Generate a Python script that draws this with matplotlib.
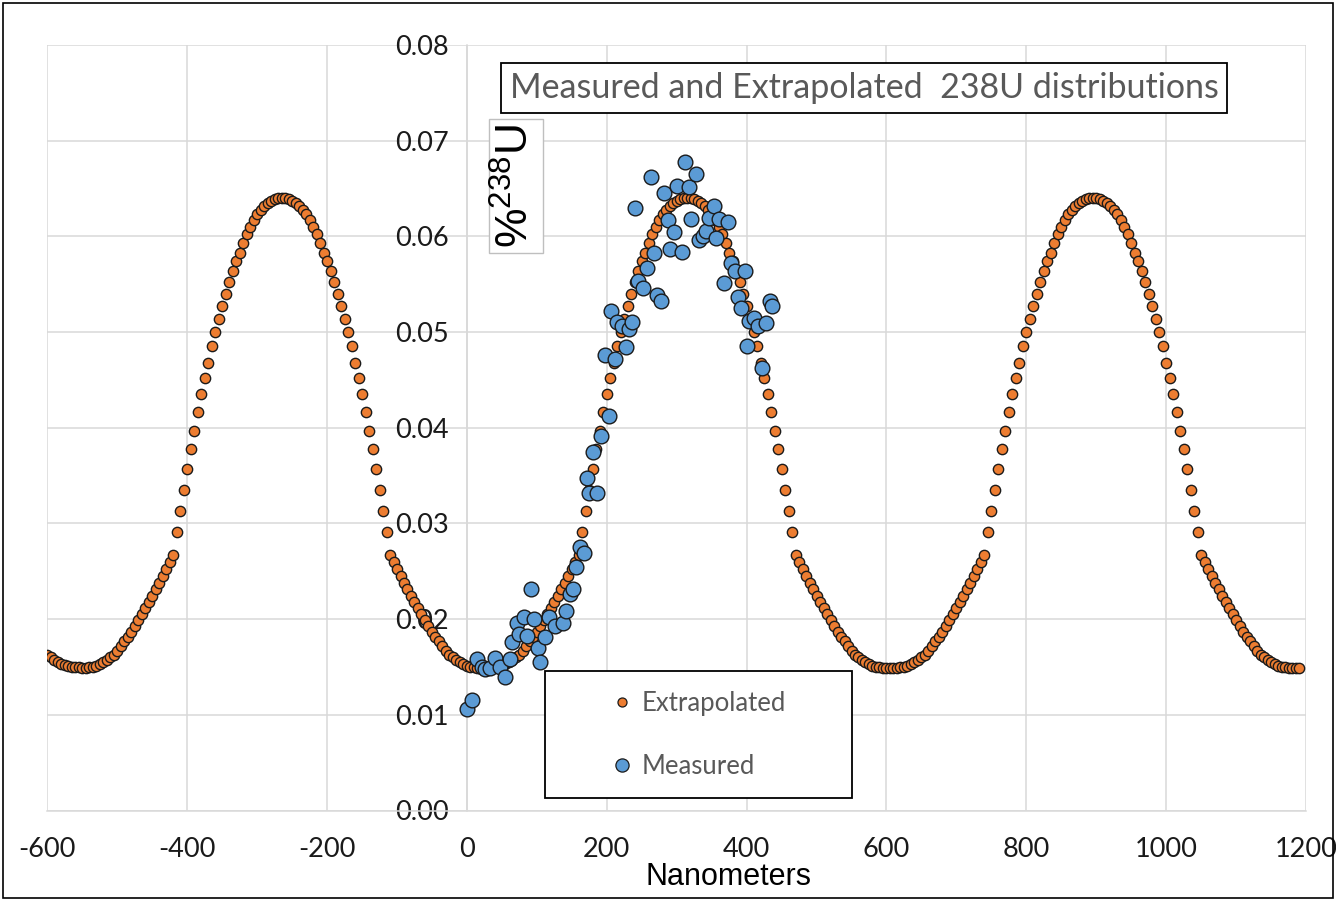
import numpy as np
import matplotlib
matplotlib.use("Agg")
import matplotlib.pyplot as plt
from matplotlib.lines import Line2D
from matplotlib.patches import Rectangle

plt.rcParams["font.family"] = ["Lato", "DejaVu Sans"]
plt.rcParams["mathtext.fontset"] = "custom"
plt.rcParams["mathtext.rm"] = "Liberation Sans"
plt.rcParams["axes.unicode_minus"] = False

# extrapolated profile, one dot every 5 nm starting at -600 nm
ext_start = -600
ext_step = 5
ext_y = [
    0.0163, 0.0160, 0.0157, 0.0155, 0.0153, 0.0152, 0.0151, 0.0150, 0.0150, 0.0150,
    # rise to the peak at -265
    0.0149, 0.0149, 0.0150, 0.0150, 0.0151, 0.0153, 0.0155, 0.0157, 0.0160, 0.0163,
    0.0167, 0.0172, 0.0177, 0.0181, 0.0187, 0.0193, 0.0199, 0.0205, 0.0212, 0.0218,
    0.0224, 0.0231, 0.0238, 0.0245, 0.0252, 0.0260, 0.0267, 0.0291, 0.0313, 0.0335,
    0.0357, 0.0378, 0.0397, 0.0416, 0.0435, 0.0452, 0.0468, 0.0485, 0.0500, 0.0514,
    0.0527, 0.0540, 0.0552, 0.0564, 0.0574, 0.0583, 0.0593, 0.0602, 0.0610, 0.0617,
    0.0623, 0.0628, 0.0632, 0.0635, 0.0637, 0.0639, 0.0640, 0.0640,
    # fall to the trough near 25
    0.0640, 0.0639, 0.0637, 0.0635, 0.0632, 0.0628, 0.0623, 0.0617, 0.0610, 0.0602,
    0.0593, 0.0583, 0.0574, 0.0564, 0.0552, 0.0540, 0.0527, 0.0514, 0.0500, 0.0485,
    0.0468, 0.0452, 0.0435, 0.0416, 0.0397, 0.0378, 0.0357, 0.0335, 0.0313, 0.0291,
    0.0267, 0.0260, 0.0252, 0.0245, 0.0238, 0.0231, 0.0224, 0.0218, 0.0212, 0.0205,
    0.0199, 0.0193, 0.0187, 0.0181, 0.0177, 0.0172, 0.0167, 0.0163, 0.0160, 0.0157,
    0.0155, 0.0153, 0.0151, 0.0150, 0.0150, 0.0149, 0.0149, 0.0149,
    # rise to the peak at 315
    0.0149, 0.0149, 0.0150, 0.0150, 0.0151, 0.0153, 0.0155, 0.0157, 0.0160, 0.0163,
    0.0167, 0.0172, 0.0177, 0.0181, 0.0187, 0.0193, 0.0199, 0.0205, 0.0212, 0.0218,
    0.0224, 0.0231, 0.0238, 0.0245, 0.0252, 0.0260, 0.0267, 0.0291, 0.0313, 0.0335,
    0.0357, 0.0378, 0.0397, 0.0416, 0.0435, 0.0452, 0.0468, 0.0485, 0.0500, 0.0514,
    0.0527, 0.0540, 0.0552, 0.0564, 0.0574, 0.0583, 0.0593, 0.0602, 0.0610, 0.0617,
    0.0623, 0.0628, 0.0632, 0.0635, 0.0637, 0.0639, 0.0640, 0.0640,
    # fall to the trough at 605
    0.0640, 0.0639, 0.0637, 0.0635, 0.0632, 0.0628, 0.0623, 0.0617, 0.0610, 0.0602,
    0.0593, 0.0583, 0.0574, 0.0564, 0.0552, 0.0540, 0.0527, 0.0514, 0.0500, 0.0485,
    0.0468, 0.0452, 0.0435, 0.0416, 0.0397, 0.0378, 0.0357, 0.0335, 0.0313, 0.0291,
    0.0267, 0.0260, 0.0252, 0.0245, 0.0238, 0.0231, 0.0224, 0.0218, 0.0212, 0.0205,
    0.0199, 0.0193, 0.0187, 0.0181, 0.0177, 0.0172, 0.0167, 0.0163, 0.0160, 0.0157,
    0.0155, 0.0153, 0.0151, 0.0150, 0.0150, 0.0149, 0.0149, 0.0149,
    # rise to the peak at 895
    0.0149, 0.0149, 0.0150, 0.0150, 0.0151, 0.0153, 0.0155, 0.0157, 0.0160, 0.0163,
    0.0167, 0.0172, 0.0177, 0.0181, 0.0187, 0.0193, 0.0199, 0.0205, 0.0212, 0.0218,
    0.0224, 0.0231, 0.0238, 0.0245, 0.0252, 0.0260, 0.0267, 0.0291, 0.0313, 0.0335,
    0.0357, 0.0378, 0.0397, 0.0416, 0.0435, 0.0452, 0.0468, 0.0485, 0.0500, 0.0514,
    0.0527, 0.0540, 0.0552, 0.0564, 0.0574, 0.0583, 0.0593, 0.0602, 0.0610, 0.0617,
    0.0623, 0.0628, 0.0632, 0.0635, 0.0637, 0.0639, 0.0640, 0.0640,
    # fall to the end at 1190
    0.0640, 0.0639, 0.0637, 0.0635, 0.0632, 0.0628, 0.0623, 0.0617, 0.0610, 0.0602,
    0.0593, 0.0583, 0.0574, 0.0564, 0.0552, 0.0540, 0.0527, 0.0514, 0.0500, 0.0485,
    0.0468, 0.0452, 0.0435, 0.0416, 0.0397, 0.0378, 0.0357, 0.0335, 0.0313, 0.0291,
    0.0267, 0.0260, 0.0252, 0.0245, 0.0238, 0.0231, 0.0224, 0.0218, 0.0212, 0.0205,
    0.0199, 0.0193, 0.0187, 0.0181, 0.0177, 0.0172, 0.0167, 0.0163, 0.0160, 0.0157,
    0.0155, 0.0153, 0.0151, 0.0150, 0.0150, 0.0149, 0.0149, 0.0149, 0.0149,
]
ext_x = ext_start + ext_step * np.arange(len(ext_y))

# measured points
meas_x = [0, 7, 14, 21, 26, 33, 40, 47, 54, 62, 64, 71, 74, 81, 86, 91, 96, 101, 105,
          112, 117, 126, 137, 142, 148, 152, 156, 161, 167, 172, 175, 181, 186, 192,
          198, 203, 206, 212, 215, 222, 227, 232, 236, 241, 245, 252, 257, 263, 267,
          272, 277, 282, 287, 291, 296, 301, 307, 312, 318, 321, 327, 332, 337, 342,
          346, 353, 356, 361, 367, 373, 377, 383, 387, 392, 397, 401, 404, 411, 416,
          422, 428, 433, 437]
meas_y = [0.0106, 0.0115, 0.0158, 0.0150, 0.0148, 0.0149, 0.0159, 0.0150, 0.0140,
          0.0158, 0.0176, 0.0196, 0.0184, 0.0202, 0.0182, 0.0231, 0.0200, 0.0170,
          0.0155, 0.0181, 0.0202, 0.0193, 0.0196, 0.0209, 0.0226, 0.0231, 0.0254,
          0.0275, 0.0269, 0.0348, 0.0332, 0.0375, 0.0332, 0.0391, 0.0476, 0.0412,
          0.0522, 0.0472, 0.0510, 0.0506, 0.0484, 0.0503, 0.0511, 0.0630, 0.0553,
          0.0546, 0.0567, 0.0662, 0.0583, 0.0539, 0.0532, 0.0645, 0.0617, 0.0587,
          0.0605, 0.0653, 0.0584, 0.0678, 0.0652, 0.0618, 0.0665, 0.0596, 0.0600,
          0.0606, 0.0619, 0.0632, 0.0598, 0.0618, 0.0551, 0.0615, 0.0572, 0.0564,
          0.0537, 0.0525, 0.0564, 0.0485, 0.0512, 0.0515, 0.0506, 0.0462, 0.0509,
          0.0532, 0.0527]

x_ticks = [-600, -400, -200, 0, 200, 400, 600, 800, 1000, 1200]
y_ticks = [0.00, 0.01, 0.02, 0.03, 0.04, 0.05, 0.06, 0.07, 0.08]

orange = "#ED7D31"
blue = "#5B9BD5"
grid_c = "#D9D9D9"
text_gray = "#595959"

W, H = 1336, 901
fig = plt.figure(figsize=(W / 100, H / 100), dpi=100)
ax = fig.add_axes([47.4 / W, 1 - 810.5 / H, (1306 - 47.4) / W, (810.5 - 45) / H])

ax.scatter(ext_x, ext_y, s=55, c=orange, edgecolors="#1a1a1a", linewidths=1.0, zorder=3)
ax.scatter(meas_x, meas_y, s=112, c=blue, edgecolors="#1a1a1a", linewidths=1.0, zorder=4)

ax.set_xlim(-600, 1200)
ax.set_ylim(0, 0.08)
ax.set_xticks(x_ticks)
ax.set_yticks(y_ticks)
ax.set_yticklabels([f"{v:.2f}" for v in y_ticks])
ax.grid(True, color=grid_c, lw=1.1)
ax.set_axisbelow(True)
for side in ["top", "right"]:
    ax.spines[side].set_visible(False)
ax.spines["left"].set_position(("data", 0))
ax.spines["left"].set_color(grid_c)
ax.spines["left"].set_linewidth(1.1)
ax.spines["bottom"].set_color(grid_c)
ax.spines["bottom"].set_linewidth(1.1)
ax.tick_params(axis="both", length=0, labelsize=19.5, labelcolor="#1a1a1a")
ax.tick_params(axis="y", pad=13)
ax.tick_params(axis="x", pad=19)

# title box
fig.text(864 / W, 1 - 88 / H, "Measured and Extrapolated  238U distributions",
         ha="center", va="center", fontsize=24.5, color=text_gray,
         bbox=dict(boxstyle="square,pad=0.25", fc="white", ec="black", lw=1.3))

# y label in its own small box
fig.text(516 / W, 1 - 186 / H, r"%$^{\mathrm{238}}$U", rotation=90,
         ha="center", va="center", fontsize=32, family="Liberation Sans", color="black",
         bbox=dict(boxstyle="square,pad=0.12", fc="white", ec="#BFBFBF", lw=1))

fig.text(729 / W, 1 - 877 / H, "Nanometers", ha="center", va="center",
         fontsize=22, family="Liberation Sans", color="black")

# legend with a fixed box
fig.add_artist(Rectangle((545 / W, 1 - 798 / H), (852 - 545) / W, (798 - 671) / H,
                         transform=fig.transFigure, fill=True, fc="white",
                         ec="black", lw=1.3, zorder=5))
handles = [
    Line2D([], [], ls="none", marker="o", ms=6.5, mfc=orange, mec="#1a1a1a", mew=0.9),
    Line2D([], [], ls="none", marker="o", ms=9.5, mfc=blue, mec="#1a1a1a", mew=0.9),
]
leg = fig.legend(handles, ["Extrapolated", "Measured"], loc="center",
                 bbox_to_anchor=(696 / W, 1 - 735 / H), frameon=False,
                 fontsize=18.5, labelspacing=1.5, handletextpad=0.15, handlelength=1.2,
                 labelcolor=text_gray)
leg.set_zorder(6)

fig.add_artist(Rectangle((3 / W, 3 / H), 1 - 6 / W, 1 - 6 / H, transform=fig.transFigure,
                         fill=False, ec="black", lw=1.2))

fig.savefig("out.png", dpi=100)
